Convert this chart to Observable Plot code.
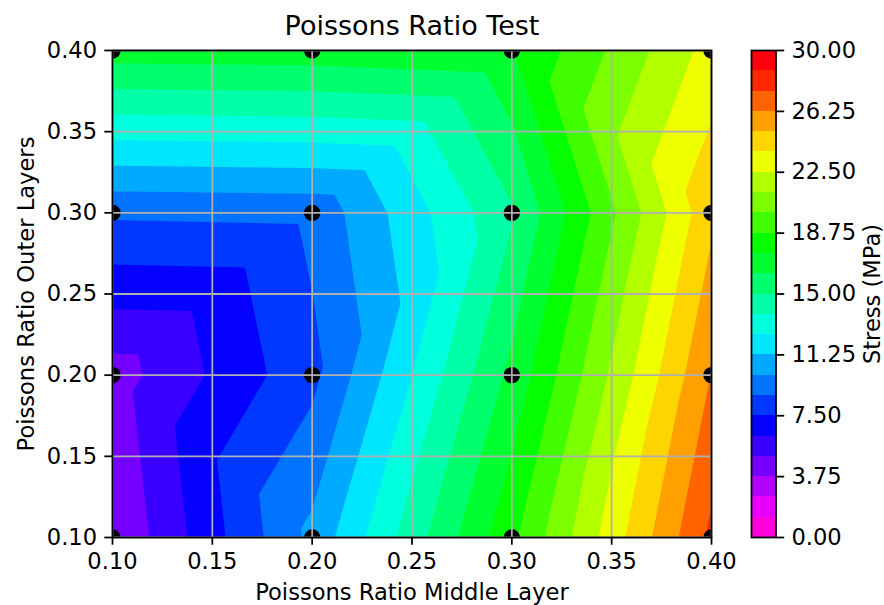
<!DOCTYPE html>
<html><head><meta charset="utf-8">
<script src="https://cdn.jsdelivr.net/npm/d3@7"></script>
<script src="https://cdn.jsdelivr.net/npm/@observablehq/plot@0.6"></script>
<style>
body{margin:0;background:#fff}
#wrap{position:relative;width:884px;height:605px;overflow:hidden;background:#fff}
#main,#cb{position:absolute;top:0}
#main{left:0}
#cb{left:740px}
</style>
</head><body><div id="wrap"><div id="main"></div><div id="cb"></div></div>
<script>
// ---- data ----
const xValues = [0.1, 0.2, 0.3, 0.4];            // Poissons ratio, middle layer
const yValues = [0.1, 0.2, 0.3, 0.4];            // Poissons ratio, outer layers
const stressAtY010 = [3.8, 10.33, 18.45, 27.78]; // MPa
const stressAtY020 = [4.4, 8.4, 16.59, 26.3];
const stressAtY030 = [8.95, 9.07, 14.85, 24.72];
const stressAtY040 = [16.88, 16.98, 17.37, 23.0];
// triangulation of each grid cell ("/" lower-left to upper-right, "\\" upper-left to lower-right)
const diagY010 = ["\\", "/", "/"];
const diagY020 = ["/", "/", "/"];
const diagY030 = ["/", "/", "\\"];
const levels = [0, 1.25, 2.5, 3.75, 5, 6.25, 7.5, 8.75, 10, 11.25, 12.5, 13.75, 15,
  16.25, 17.5, 18.75, 20, 21.25, 22.5, 23.75, 25, 26.25, 27.5, 28.75, 30];
const colorbarTicks = [0, 3.75, 7.5, 11.25, 15, 18.75, 22.5, 26.25, 30];
const xTicks = [0.1, 0.15, 0.2, 0.25, 0.3, 0.35, 0.4];
const yTicks = [0.1, 0.15, 0.2, 0.25, 0.3, 0.35, 0.4];

// ---- colormap (gist_rainbow reversed, as matplotlib) ----
const gistStops = [0, 0.03, 0.215, 0.4, 0.586, 0.77, 0.954, 1];
const gistColors = ["rgb(255,0,41)", "rgb(255,0,0)", "rgb(255,255,0)", "rgb(0,255,0)",
  "rgb(0,255,255)", "rgb(0,0,255)", "rgb(255,0,255)", "rgb(255,0,191)"];
const gist = d3.scaleLinear().domain(gistStops).range(gistColors).interpolate(d3.interpolateRgb).clamp(true);
const vmin = levels[0], vmax = levels[levels.length - 1];
const bandColors = d3.pairs(levels).map(([a, b]) => {
  const m = ((a + b) / 2 - vmin) / (vmax - vmin);
  const idx = Math.min(255, Math.floor(m * 256));
  return gist(1 - idx / 255);
});
const colorScale = {type: "threshold", domain: levels.slice(1, -1), range: bandColors};

// ---- piecewise linear interpolant on the triangulated grid ----
const Z = [stressAtY010, stressAtY020, stressAtY030, stressAtY040];
const D = [diagY010, diagY020, diagY030];
function cellIndex(arr, v) {
  return Math.max(0, Math.min(arr.length - 2, d3.bisectRight(arr, v) - 1));
}
function stressAt(x, y) {
  const i = cellIndex(xValues, x), j = cellIndex(yValues, y);
  const u = (x - xValues[i]) / (xValues[i + 1] - xValues[i]);
  const v = (y - yValues[j]) / (yValues[j + 1] - yValues[j]);
  const z00 = Z[j][i], z10 = Z[j][i + 1], z01 = Z[j + 1][i], z11 = Z[j + 1][i + 1];
  if (D[j][i] === "/") {
    return u >= v ? z00 + u * (z10 - z00) + v * (z11 - z10)
                  : z00 + v * (z01 - z00) + u * (z11 - z01);
  } else {
    return u + v <= 1 ? z00 + u * (z10 - z00) + v * (z01 - z00)
                      : z11 + (1 - u) * (z01 - z11) + (1 - v) * (z10 - z11);
  }
}
const points = yValues.flatMap((y, j) => xValues.map((x, i) => ({x, y, stress: Z[j][i]})));

const font = "DejaVu Sans";
const fs = 22.6;
const lw = 1.76;

const main = Plot.plot({
  width: 740, height: 605,
  marginLeft: 112, marginRight: 29, marginTop: 50, marginBottom: 68,
  style: {fontFamily: font, fontSize: fs + "px", color: "black", background: "white"},
  x: {domain: [0.1, 0.4]},
  y: {domain: [0.1, 0.4]},
  color: colorScale,
  marks: [
    Plot.contour({fill: (x, y) => stressAt(x, y), x1: 0.1, y1: 0.1, x2: 0.4, y2: 0.4,
      thresholds: levels.slice(0, -1), stroke: "none"}),
    Plot.dot(points, {x: "x", y: "y", r: 8.2, fill: "black", stroke: "none", clip: true}),
    Plot.gridX(xTicks, {stroke: "#b0b0b0", strokeOpacity: 1, strokeWidth: lw}),
    Plot.gridY(yTicks, {stroke: "#b0b0b0", strokeOpacity: 1, strokeWidth: lw}),
    Plot.frame({stroke: "black", strokeWidth: lw}),
    Plot.axisX({ticks: xTicks, tickFormat: ".2f", tickSize: 7.7, tickPadding: 7.7, strokeWidth: lw, label: null}),
    Plot.axisY({ticks: yTicks, tickFormat: ".2f", tickSize: 7.7, tickPadding: 7.7, strokeWidth: lw, label: null}),
    Plot.text(["Poissons Ratio Test"], {frameAnchor: "top", textAnchor: "middle", dy: -16, lineAnchor: "bottom", fontSize: 27, fill: "black"}),
    Plot.text(["Poissons Ratio Middle Layer"], {frameAnchor: "bottom", textAnchor: "middle", dy: 62.5, lineAnchor: "bottom", fontSize: fs, fill: "black"}),
    Plot.text(["Poissons Ratio Outer Layers"], {frameAnchor: "left", textAnchor: "middle", dx: -85.5, rotate: -90, lineAnchor: "middle", fontSize: fs, fill: "black"})
  ]
});
document.getElementById("main").appendChild(main);

const bands = d3.pairs(levels).map(([lo, hi]) => ({lo, hi}));
const cb = Plot.plot({
  width: 144, height: 605,
  marginLeft: 11, marginRight: 108.5, marginTop: 50, marginBottom: 68,
  style: {fontFamily: font, fontSize: fs + "px", color: "black", background: "transparent"},
  y: {domain: [vmin, vmax]},
  color: colorScale,
  marks: [
    Plot.rect(bands, {y1: "lo", y2: "hi", fill: "lo", shapeRendering: "crispEdges"}),
    Plot.frame({stroke: "black", strokeWidth: lw}),
    Plot.axisY({anchor: "right", ticks: colorbarTicks, tickFormat: ".2f", tickSize: 7.7, tickPadding: 7.7, strokeWidth: lw, label: null}),
    Plot.text(["Stress (MPa)"], {frameAnchor: "right", textAnchor: "middle", dx: 96.5, rotate: -90, lineAnchor: "middle", fontSize: fs, fill: "black"})
  ]
});
document.getElementById("cb").appendChild(cb);
</script>
</body></html>
